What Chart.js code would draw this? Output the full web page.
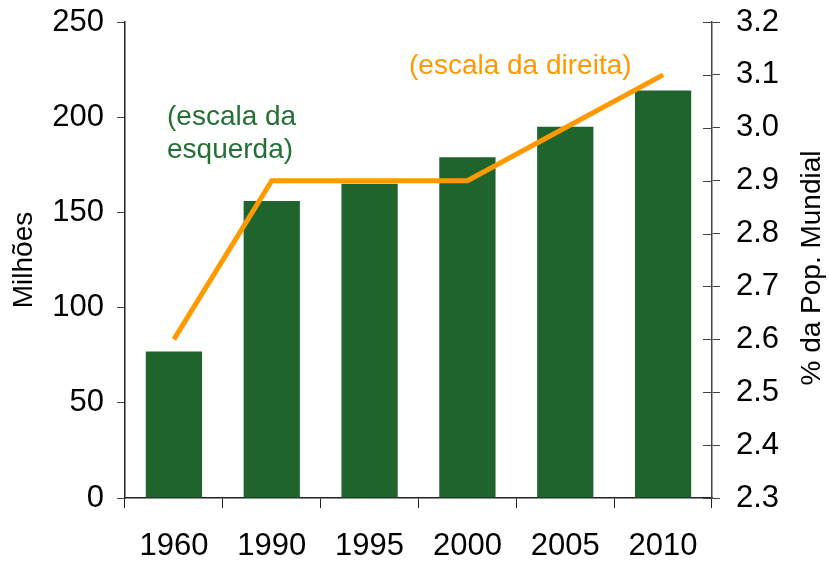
<!doctype html>
<html lang="pt">
  <head>
    <title>População</title>
    <meta charset="utf-8" />
    <style>
      html, body { margin: 0; padding: 0; background: #fff; }
      .chart-container { width: 829px; height: 563px; }
    </style>
  </head>
  <body>
    <div class="chart-container">
      <canvas id="pop-chart"></canvas>
    </div>

    <script src="https://cdn.jsdelivr.net/npm/chart.js@4.4.1/dist/chart.umd.min.js"></script>
    <script>
      const years = ["1960", "1990", "1995", "2000", "2005", "2010"];
      const milhoes = [77, 156, 165, 179, 195, 214];
      const pctMundial = [2.6, 2.9, 2.9, 2.9, 3.0, 3.1];

      const green = "#1f632d";
      const orange = "#ff9900";
      const font = "'Liberation Sans', Arial, sans-serif";

      // right axis ticks cross the axis line, draw the inner half here
      const innerTicks = {
        id: "innerTicks",
        afterDraw(chart) {
          const y1 = chart.scales.y1;
          const c = chart.ctx;
          c.save();
          c.strokeStyle = "#444";
          c.lineWidth = 1;
          y1.ticks.forEach((t) => {
            const py = Math.round(y1.getPixelForValue(t.value)) + 0.5;
            c.beginPath();
            c.moveTo(y1.left - 9, py);
            c.lineTo(y1.left, py);
            c.stroke();
          });
          c.restore();
        },
      };

      const notes = {
        id: "notes",
        afterDraw(chart) {
          const c = chart.ctx;
          c.save();
          c.font = "28px " + font;
          c.textBaseline = "alphabetic";
          c.fillStyle = "#237035";
          c.fillText("(escala da", 167, 125);
          c.fillText("esquerda)", 167, 158);
          c.fillStyle = orange;
          c.fillText("(escala da direita)", 409, 74);

          // right axis title, reading bottom to top
          const area = chart.chartArea;
          c.translate(812, (area.top + area.bottom) / 2 + 8);
          c.rotate(-Math.PI / 2);
          c.font = "28px " + font;
          c.fillStyle = "#000";
          c.textAlign = "center";
          c.textBaseline = "middle";
          c.fillText("% da Pop. Mundial", 0, 0);
          c.restore();
        },
      };

      function fixWidth(w) {
        return (scale) => {
          scale.width = w;
          scale.paddingTop = 0;
          scale.paddingBottom = 0;
        };
      }

      const ctx = document.getElementById("pop-chart");
      new Chart(ctx, {
        data: {
          labels: years,
          datasets: [
            {
              type: "line",
              data: pctMundial,
              yAxisID: "y1",
              borderColor: orange,
              borderWidth: 5,
              pointRadius: 0,
              tension: 0,
              order: 0,
            },
            {
              type: "bar",
              data: milhoes,
              yAxisID: "y",
              backgroundColor: green,
              categoryPercentage: 1,
              barPercentage: 0.575,
              order: 1,
            },
          ],
        },
        plugins: [innerTicks, notes],
        options: {
          responsive: true,
          maintainAspectRatio: false,
          animation: false,
          layout: { padding: { top: 22, left: 0, right: 0, bottom: 0 } },
          plugins: {
            legend: { display: false },
            tooltip: { enabled: false },
          },
          scales: {
            x: {
              grid: {
                display: true,
                drawOnChartArea: false,
                tickLength: 10,
                color: "#222",
              },
              border: { color: "#222", width: 1.5 },
              ticks: {
                color: "#000",
                font: { family: font, size: 31 },
                padding: 20,
                maxRotation: 0,
              },
              afterFit(scale) {
                scale.height = 65;
                scale.paddingLeft = 0;
                scale.paddingRight = 0;
              },
            },
            y: {
              position: "left",
              min: 0,
              max: 250,
              ticks: {
                stepSize: 50,
                color: "#000",
                font: { family: font, size: 31 },
                padding: 13,
              },
              grid: {
                display: true,
                drawOnChartArea: false,
                tickLength: 8,
                color: "#444",
              },
              border: { color: "#222", width: 1.5 },
              title: {
                display: true,
                text: "Milhões",
                color: "#000",
                font: { family: font, size: 28 },
                padding: { top: 7, bottom: 0 },
              },
              afterFit: fixWidth(125),
            },
            y1: {
              position: "right",
              min: 2.3,
              max: 3.2,
              ticks: {
                stepSize: 0.1,
                color: "#000",
                font: { family: font, size: 31 },
                padding: 16,
                callback: (v) => v.toFixed(1),
              },
              grid: {
                display: true,
                drawOnChartArea: false,
                tickLength: 8,
                color: "#444",
              },
              border: { color: "#444", width: 1.5 },
              afterFit: fixWidth(117),
            },
          },
        },
      });
    </script>
  </body>
</html>
